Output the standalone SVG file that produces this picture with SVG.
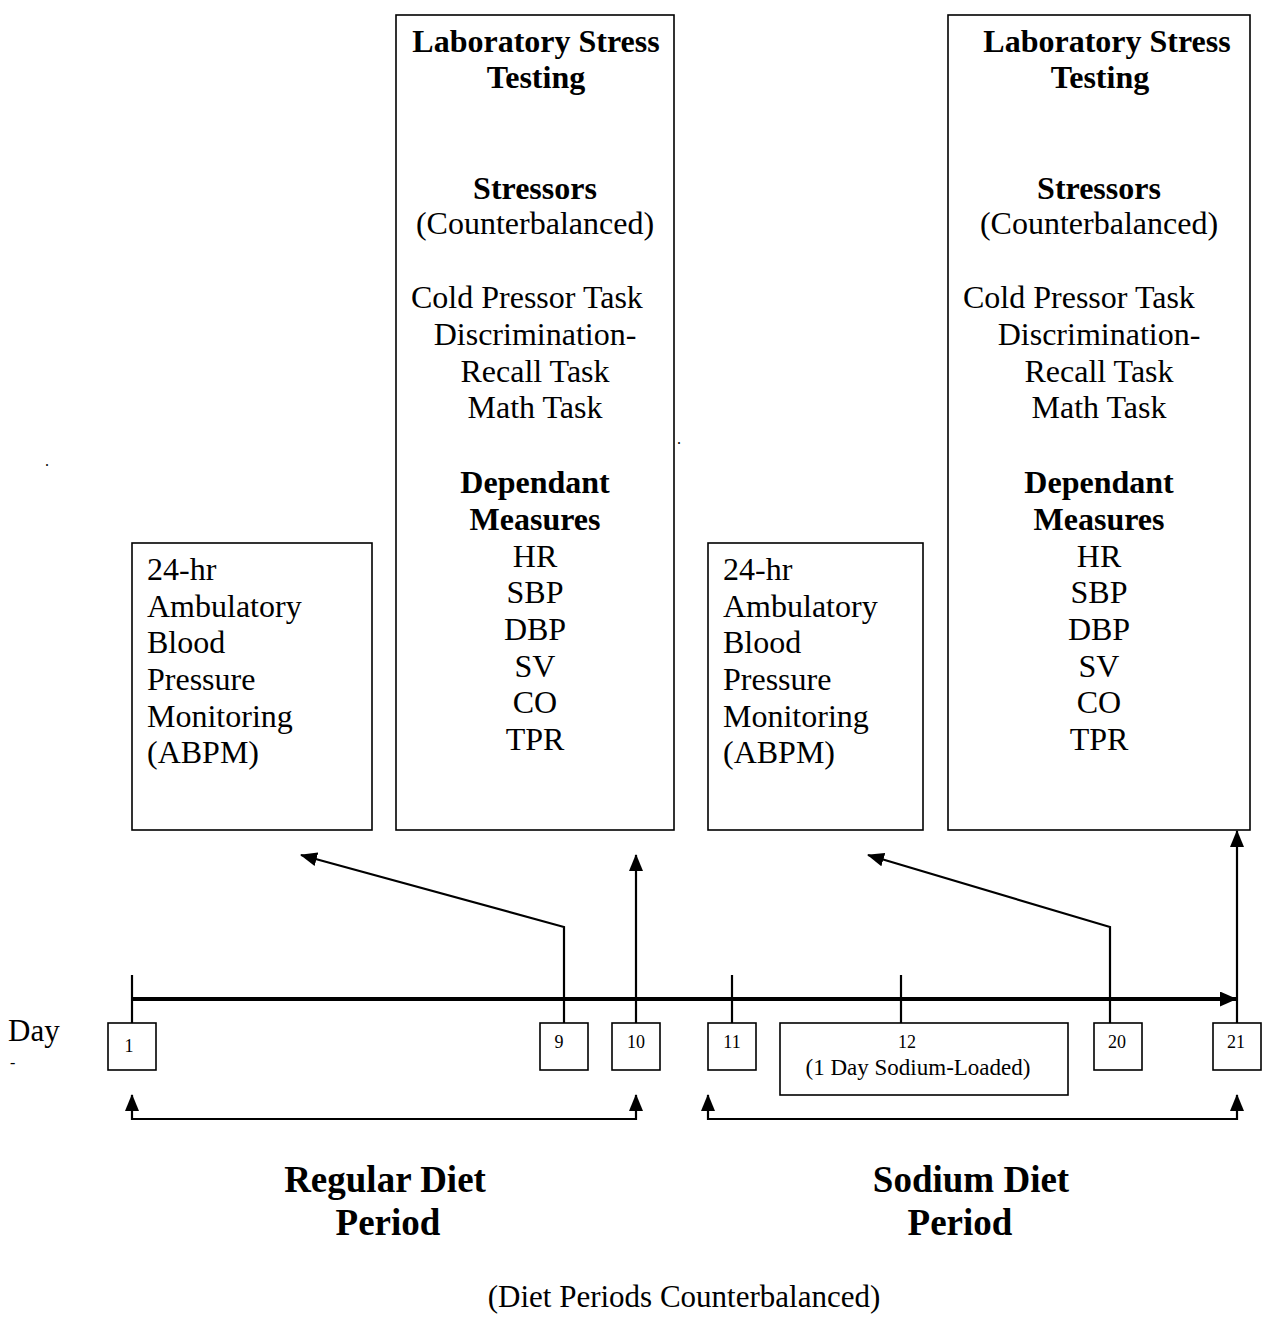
<svg xmlns="http://www.w3.org/2000/svg" width="1265" height="1322" viewBox="0 0 1265 1322">
  <style>
    .box { fill: #fff; stroke: #000; stroke-width: 1.6; }
    .t { font-family: "Liberation Serif", "Times New Roman", serif; font-size: 32px; fill: #000; }
    .c { text-anchor: middle; }
    .b { font-weight: bold; }
    .n { font-family: "Liberation Serif", "Times New Roman", serif; font-size: 18px; fill: #000; text-anchor: middle; }
    .big { font-family: "Liberation Serif", "Times New Roman", serif; font-size: 37px; font-weight: bold; fill: #000; text-anchor: middle; }
    .ln { fill: none; stroke: #000; stroke-width: 2.2; }
    .thick { fill: none; stroke: #000; stroke-width: 4; }
  </style>
  <defs>
    <marker id="ah" markerWidth="17" markerHeight="14" refX="16" refY="7" orient="auto-start-reverse" markerUnits="userSpaceOnUse">
      <path d="M0,0 L17,7 L0,14 z" fill="#000"/>
    </marker>
    <marker id="ahT" markerWidth="17" markerHeight="15" refX="16" refY="7.5" orient="auto" markerUnits="userSpaceOnUse">
      <path d="M0,0 L17,7.5 L0,15 z" fill="#000"/>
    </marker>
  </defs>
  <rect width="1265" height="1322" fill="#fff"/>

  <g id="abpm1">
    <rect class="box" x="132" y="543" width="240" height="287"/>
    <text class="t" x="147" y="580">24-hr</text>
    <text class="t" x="147" y="617">Ambulatory</text>
    <text class="t" x="147" y="653">Blood</text>
    <text class="t" x="147" y="690">Pressure</text>
    <text class="t" x="147" y="727">Monitoring</text>
    <text class="t" x="147" y="763">(ABPM)</text>
  </g>

  <g id="lab1">
    <rect class="box" x="396" y="15" width="278" height="815"/>
    <text class="t c b" x="536" y="52">Laboratory Stress</text>
    <text class="t c b" x="536" y="88">Testing</text>
    <text class="t c b" x="535" y="199">Stressors</text>
    <text class="t c" x="535" y="234">(Counterbalanced)</text>
    <text class="t" x="411" y="308">Cold Pressor Task</text>
    <text class="t c" x="535" y="345">Discrimination-</text>
    <text class="t c" x="535" y="382">Recall Task</text>
    <text class="t c" x="535" y="418">Math Task</text>
    <text class="t c b" x="535" y="493">Dependant</text>
    <text class="t c b" x="535" y="530">Measures</text>
    <text class="t c" x="535" y="567">HR</text>
    <text class="t c" x="535" y="603">SBP</text>
    <text class="t c" x="535" y="640">DBP</text>
    <text class="t c" x="535" y="677">SV</text>
    <text class="t c" x="535" y="713">CO</text>
    <text class="t c" x="535" y="750">TPR</text>
  </g>

  <g id="abpm2">
    <rect class="box" x="708" y="543" width="215" height="287"/>
    <text class="t" x="723" y="580">24-hr</text>
    <text class="t" x="723" y="617">Ambulatory</text>
    <text class="t" x="723" y="653">Blood</text>
    <text class="t" x="723" y="690">Pressure</text>
    <text class="t" x="723" y="727">Monitoring</text>
    <text class="t" x="723" y="763">(ABPM)</text>
  </g>

  <g id="lab2">
    <rect class="box" x="948" y="15" width="302" height="815"/>
    <text class="t c b" x="1107" y="52">Laboratory Stress</text>
    <text class="t c b" x="1100" y="88">Testing</text>
    <text class="t c b" x="1099" y="199">Stressors</text>
    <text class="t c" x="1099" y="234">(Counterbalanced)</text>
    <text class="t" x="963" y="308">Cold Pressor Task</text>
    <text class="t c" x="1099" y="345">Discrimination-</text>
    <text class="t c" x="1099" y="382">Recall Task</text>
    <text class="t c" x="1099" y="418">Math Task</text>
    <text class="t c b" x="1099" y="493">Dependant</text>
    <text class="t c b" x="1099" y="530">Measures</text>
    <text class="t c" x="1099" y="567">HR</text>
    <text class="t c" x="1099" y="603">SBP</text>
    <text class="t c" x="1099" y="640">DBP</text>
    <text class="t c" x="1099" y="677">SV</text>
    <text class="t c" x="1099" y="713">CO</text>
    <text class="t c" x="1099" y="750">TPR</text>
  </g>

  <g id="connectors">
    <line class="thick" x1="132" y1="999" x2="1236" y2="999" marker-end="url(#ahT)"/>
    <line class="ln" x1="132" y1="975" x2="132" y2="1023"/>
    <line class="ln" x1="732" y1="975" x2="732" y2="1023"/>
    <line class="ln" x1="901" y1="975" x2="901" y2="1023"/>
    <polyline class="ln" points="564,1023 564,927 301,855" marker-end="url(#ah)"/>
    <line class="ln" x1="636" y1="1023" x2="636" y2="855" marker-end="url(#ah)"/>
    <polyline class="ln" points="1110,1023 1110,927 868,855" marker-end="url(#ah)"/>
    <line class="ln" x1="1237" y1="1023" x2="1237" y2="831" marker-end="url(#ah)"/>
    <polyline class="ln" points="132,1095 132,1119 636,1119 636,1095" marker-start="url(#ah)" marker-end="url(#ah)"/>
    <polyline class="ln" points="708,1095 708,1119 1237,1119 1237,1095" marker-start="url(#ah)" marker-end="url(#ah)"/>
  </g>

  <g id="day1">
    <rect class="box" x="108" y="1023" width="48" height="47"/>
    <text class="n" x="129" y="1052">1</text>
  </g>
  <g id="day9">
    <rect class="box" x="540" y="1023" width="48" height="47"/>
    <text class="n" x="559" y="1048">9</text>
  </g>
  <g id="day10">
    <rect class="box" x="612" y="1023" width="48" height="47"/>
    <text class="n" x="636" y="1048">10</text>
  </g>
  <g id="day11">
    <rect class="box" x="708" y="1023" width="48" height="47"/>
    <text class="n" x="732" y="1048">11</text>
  </g>
  <g id="day12">
    <rect class="box" x="780" y="1023" width="288" height="72"/>
    <text class="n" x="907" y="1048">12</text>
    <text class="n" x="918" y="1075" style="font-size:23px">(1 Day Sodium-Loaded)</text>
  </g>
  <g id="day20">
    <rect class="box" x="1094" y="1023" width="48" height="47"/>
    <text class="n" x="1117" y="1048">20</text>
  </g>
  <g id="day21">
    <rect class="box" x="1213" y="1023" width="48" height="47"/>
    <text class="n" x="1236" y="1048">21</text>
  </g>

  <g id="labels">
    <text class="t" x="8" y="1041" style="font-size:31px">Day</text>
    <text class="t" x="10" y="1068" style="font-size:16px">-</text>
    <text class="t" x="45" y="466" style="font-size:16px">.</text>
    <text class="t" x="677" y="444" style="font-size:16px">.</text>
    <text class="big" x="385" y="1192">Regular Diet</text>
    <text class="big" x="388" y="1235">Period</text>
    <text class="big" x="971" y="1192">Sodium Diet</text>
    <text class="big" x="960" y="1235">Period</text>
    <text class="t c" x="684" y="1307" style="font-size:31px">(Diet Periods Counterbalanced)</text>
  </g>
</svg>
